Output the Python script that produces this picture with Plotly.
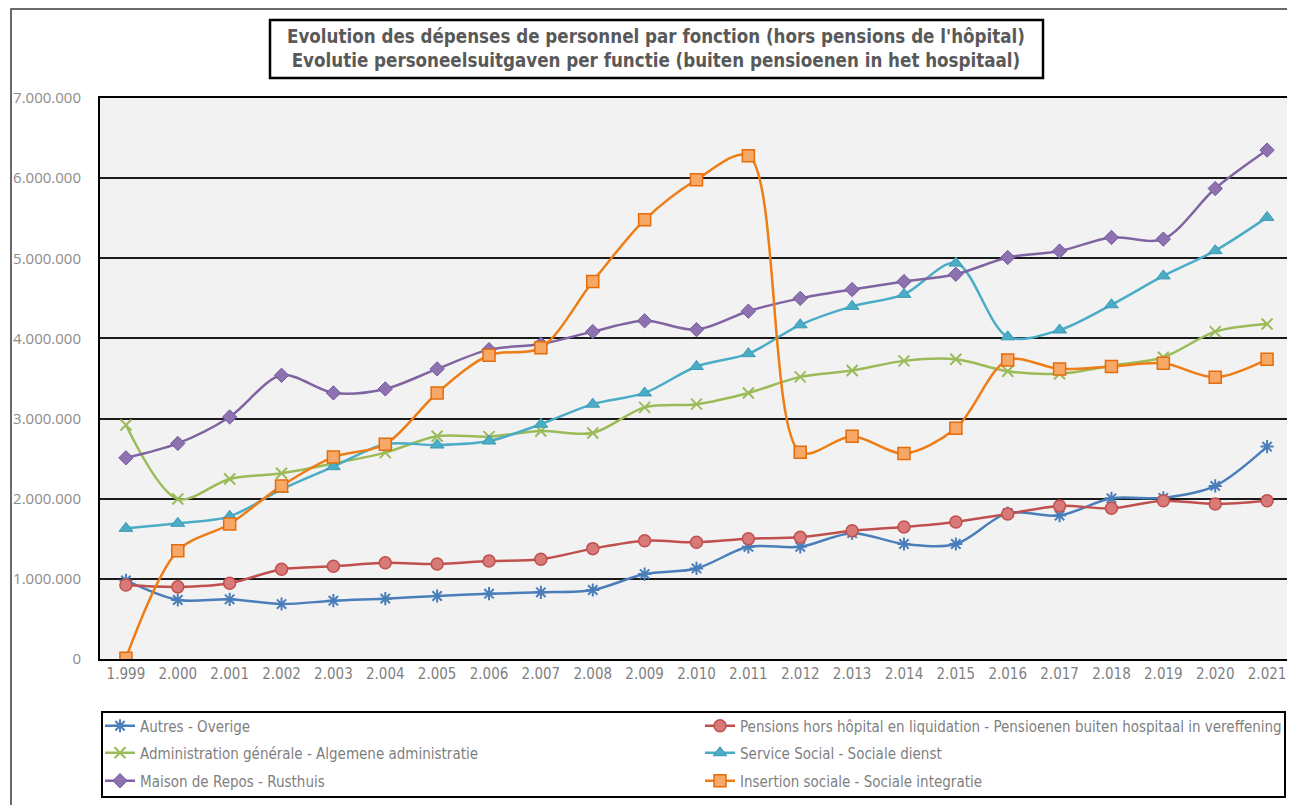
import plotly.graph_objects as go

years = list(range(1999, 2022))

autres = [980000, 736000, 745000, 686000, 728000, 753000, 786000, 815000, 832000, 861000,
          1060000, 1130000, 1400000, 1400000, 1570000, 1435000, 1435000, 1820000, 1790000,
          2005000, 2010000, 2160000, 2650000]
pensions = [923000, 900000, 945000, 1120000, 1157000, 1200000, 1185000, 1223000, 1244000,
            1377000, 1476000, 1456000, 1500000, 1520000, 1600000, 1647000, 1710000, 1810000,
            1910000, 1880000, 1975000, 1934000, 1975000]
administration = [2920000, 1997000, 2246000, 2317000, 2440000, 2575000, 2780000, 2775000,
                  2845000, 2820000, 3140000, 3180000, 3320000, 3520000, 3600000, 3720000,
                  3740000, 3590000, 3560000, 3660000, 3765000, 4085000, 4180000]
service_social = [1630000, 1693000, 1780000, 2117000, 2400000, 2680000, 2670000, 2720000,
                  2930000, 3180000, 3320000, 3650000, 3810000, 4170000, 4400000, 4550000,
                  4940000, 4020000, 4105000, 4420000, 4780000, 5095000, 5510000]
maison_repos = [2510000, 2690000, 3020000, 3540000, 3320000, 3370000, 3620000, 3860000,
                3930000, 4085000, 4220000, 4110000, 4340000, 4500000, 4610000, 4710000,
                4800000, 5010000, 5090000, 5260000, 5240000, 5870000, 6350000]
insertion = [10000, 1350000, 1685000, 2160000, 2520000, 2680000, 3320000, 3790000, 3885000,
             4710000, 5480000, 5980000, 6280000, 2580000, 2780000, 2565000, 2880000, 3730000,
             3620000, 3650000, 3690000, 3515000, 3740000]

names = [
    "Autres - Overige",
    "Pensions hors hôpital en liquidation - Pensioenen buiten hospitaal in vereffening",
    "Administration générale - Algemene administratie",
    "Service Social - Sociale dienst",
    "Maison de Repos - Rusthuis",
    "Insertion sociale - Sociale integratie",
]
title_lines = [
    "Evolution des dépenses de personnel par fonction (hors pensions de l'hôpital)",
    "Evolutie personeelsuitgaven per functie (buiten pensioenen in het hospitaal)",
]

# page body has an 8px margin: work in reference-pixel coordinates and shift
OFF = 8
W, H = 1295 - OFF, 805 - OFF
PLOT_L, PLOT_R, PLOT_T, PLOT_B = 100, 1293, 98, 659   # reference pixels
L = PLOT_L - OFF
T = PLOT_T - OFF
R = W - (PLOT_R - OFF)
B = H - (PLOT_B - OFF)
PW, PH = PLOT_R - PLOT_L, PLOT_B - PLOT_T


def px(x):
    return (x - PLOT_L) / PW


def py(y):
    return (PLOT_B - y) / PH


NARROW = "Liberation Sans Narrow, Arial Narrow, DejaVu Sans Condensed, sans-serif"

styles = [
    dict(values=autres, line="#4a7ebb", marker=dict(symbol="asterisk-open", size=11,
                                                     line=dict(color="#2f5f9e", width=2))),
    dict(values=pensions, line="#c0504d", marker=dict(symbol="circle", size=12, color="#d77a78",
                                                       line=dict(color="#c0504d", width=1.5))),
    dict(values=administration, line="#9bbb59", marker=dict(symbol="x-thin-open", size=11,
                                                             line=dict(color="#77933c", width=2))),
    dict(values=service_social, line="#4bacc6", marker=dict(symbol="triangle-up", size=12,
                                                             color="#4bacc6",
                                                             line=dict(color="#3a9ab5", width=1))),
    dict(values=maison_repos, line="#8064a2", marker=dict(symbol="diamond", size=11,
                                                           color="#8e72b0",
                                                           line=dict(color="#7058a0", width=1))),
    dict(values=insertion, line="#ed7d14", marker=dict(symbol="square", size=12, color="#f8a866",
                                                        line=dict(color="#e46c0a", width=1.5))),
]

legend_pos = [(100, 726), (700, 726), (100, 753), (700, 753), (100, 781), (700, 781)]

fig = go.Figure()
for i, (name, st) in enumerate(zip(names, styles)):
    lg = "legend" if i == 0 else f"legend{i+1}"
    fig.add_trace(go.Scatter(
        x=years, y=st["values"], name=name, mode="lines+markers",
        line=dict(color=st["line"], width=2.5, shape="spline", smoothing=0.9),
        marker=st["marker"], legend=lg,
    ))

layout_legends = {}
for i, (lx, ly) in enumerate(legend_pos):
    key = "legend" if i == 0 else f"legend{i+1}"
    layout_legends[key] = dict(
        x=px(lx), y=py(ly), xanchor="left", yanchor="middle",
        bgcolor="rgba(0,0,0,0)", borderwidth=0,
        font=dict(family=NARROW, size=15, color="#7f7f7f"),
        itemwidth=30,
    )

fig.update_layout(
    width=W, height=H,
    margin=dict(l=L, r=R, t=T, b=B, autoexpand=False),
    paper_bgcolor="white", plot_bgcolor="#f2f2f2",
    separators=",.",
    showlegend=True,
    **layout_legends,
)

fig.update_xaxes(
    range=[1998.5, 2021.5], tickmode="array", tickvals=years, tickformat=",d",
    showgrid=False, zeroline=False,
    showline=True, linecolor="black", linewidth=2, mirror=True,
    ticks="", tickfont=dict(family=NARROW, size=15, color="#7f7f7f"),
)
fig.update_yaxes(
    range=[0, 7000000], dtick=1000000, tickformat=",d",
    showgrid=True, gridcolor="#1a1a1a", gridwidth=2,
    zeroline=False,
    showline=True, linecolor="black", linewidth=2, mirror=True,
    ticks="", ticklabelstandoff=14,
    tickfont=dict(family="Open Sans, sans-serif", size=15, color="#8c8c8c"),
)

# outer chart frame
fig.add_shape(type="rect", xref="paper", yref="paper",
              x0=px(11), x1=px(1320), y0=py(830), y1=py(9),
              line=dict(color="#3a3a3a", width=1.5), fillcolor="rgba(0,0,0,0)", layer="below")
# title box
fig.add_shape(type="rect", xref="paper", yref="paper",
              x0=px(270), x1=px(1043), y0=py(78), y1=py(20),
              line=dict(color="black", width=2.5), fillcolor="white")
fig.add_annotation(
    x=px(656), y=py(49), xref="paper", yref="paper", xanchor="center", yanchor="middle",
    text="<br>".join(f"<b>{t}</b>" for t in title_lines), showarrow=False,
    font=dict(family=NARROW, size=18.6, color="#595959"),
)
# legend box
fig.add_shape(type="rect", xref="paper", yref="paper",
              x0=px(102), x1=px(1285), y0=py(797), y1=py(712),
              line=dict(color="black", width=2), fillcolor="rgba(0,0,0,0)")

fig.write_html("out.html")
